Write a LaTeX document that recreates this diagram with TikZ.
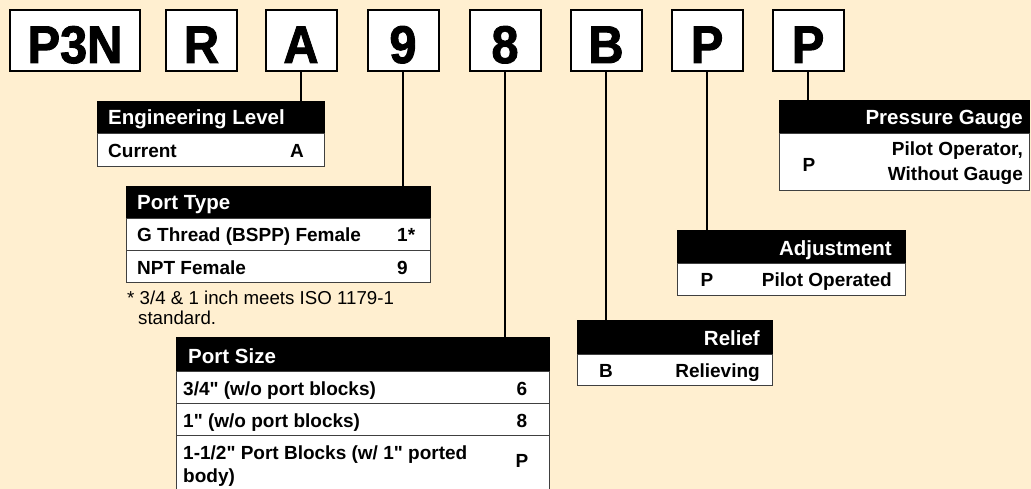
\documentclass[tikz,border=0pt]{standalone}
\usepackage{fontspec}
\setmainfont{Liberation Sans}
\newfontfamily\bigfont{Liberation Sans Bold}[FakeBold=1.8,FakeStretch=0.92]
\definecolor{bg}{HTML}{FFEFD0}
\definecolor{rulec}{HTML}{404040}
\newcommand{\qq}{\textquotedbl}
\begin{document}
\begin{tikzpicture}[x=1pt,y=-1pt,
 codebox/.style={draw=black, line width=2pt, fill=white, minimum height=61pt, inner sep=0pt},
 codetext/.style={font=\bigfont\fontsize{53}{53}\selectfont, anchor=base, inner sep=0pt},
 conn/.style={line width=2pt, black},
 hdrbox/.style={fill=black, draw=black, line width=1pt, inner sep=0pt, anchor=north west},
 rowbox/.style={fill=white, draw=rulec, line width=1.2pt, inner sep=0pt, anchor=north west},
 hdrtext/.style={font=\bfseries\fontsize{20.5}{24}\selectfont, text=white, inner sep=0pt},
 rowtext/.style={font=\bfseries\fontsize{19}{23}\selectfont, inner sep=0pt},
 note/.style={font=\fontsize{18.7}{21}\selectfont, inner sep=0pt, anchor=base west},
]
\useasboundingbox[fill=bg] (0,0) rectangle (1031,489);
\clip (0,0) rectangle (1031,489);

% code boxes
\node[codebox, minimum width=130pt] (cP3N) at (75,40.5) {};
\node[codebox, minimum width=71pt] (cR) at (201.5,40.5) {};
\node[codebox, minimum width=71pt] (cA) at (301,40.5) {};
\node[codebox, minimum width=71pt] (c9) at (403,40.5) {};
\node[codebox, minimum width=71pt] (c8) at (505,40.5) {};
\node[codebox, minimum width=71pt] (cB) at (606,40.5) {};
\node[codebox, minimum width=71pt] (cP1) at (707,40.5) {};
\node[codebox, minimum width=71pt] (cP2) at (808,40.5) {};
\node[codetext] (tP3N) at (75,63) {P3N};
\node[codetext] (tR) at (201.5,63) {R};
\node[codetext] (tA) at (301,63) {A};
\node[codetext] (t9) at (403,63) {9};
\node[codetext] (t8) at (505,63) {8};
\node[codetext] (tB) at (606,63) {B};
\node[codetext] (tP1) at (707,63) {P};
\node[codetext] (tP2) at (808,63) {P};

% Engineering Level
\node[hdrbox, minimum width=227pt, minimum height=32pt] (engH) at (97,101) {};
\node[rowbox, minimum width=227pt, minimum height=33pt] (engR1) at (97,133) {};
\node[hdrtext, anchor=base west] (engHt) at (108,125) {Engineering Level};
\node[rowtext, anchor=base west] (engR1a) at (108,158) {Current};
\node[rowtext, anchor=base] (engR1b) at (297,158) {A};

% Port Type
\node[hdrbox, minimum width=304pt, minimum height=32pt] (ptH) at (126,186) {};
\node[rowbox, minimum width=304pt, minimum height=32pt] (ptR1) at (126,218) {};
\node[rowbox, minimum width=304pt, minimum height=32pt] (ptR2) at (126,250) {};
\node[hdrtext, anchor=base west] (ptHt) at (137,210) {Port Type};
\node[rowtext, anchor=base west] (ptR1a) at (137,242) {G Thread (BSPP) Female};
\node[rowtext, anchor=base west] (ptR1b) at (397,242) {1*};
\node[rowtext, anchor=base west] (ptR2a) at (137,274) {NPT Female};
\node[rowtext, anchor=base west] (ptR2b) at (397,274) {9};
\node[note] (ptN1) at (127,305) {* 3/4 \& 1 inch meets ISO 1179-1};
\node[note] (ptN2) at (138,324) {standard.};

% Port Size
\node[hdrbox, minimum width=373pt, minimum height=34pt] (psH) at (176,337) {};
\node[rowbox, minimum width=373pt, minimum height=32pt] (psR1) at (176,371) {};
\node[rowbox, minimum width=373pt, minimum height=32pt] (psR2) at (176,403) {};
\node[rowbox, minimum width=373pt, minimum height=62pt] (psR3) at (176,435) {};
\node[hdrtext, anchor=base west] (psHt) at (188,363) {Port Size};
\node[rowtext, anchor=base west] (psR1a) at (183,395) {3/4\qq{} (w/o port blocks)};
\node[rowtext, anchor=base] (psR1b) at (522,395) {6};
\node[rowtext, anchor=base west] (psR2a) at (183,427) {1\qq{} (w/o port blocks)};
\node[rowtext, anchor=base] (psR2b) at (522,427) {8};
\node[rowtext, anchor=base west] (psR3a) at (183,459) {1-1/2\qq{} Port Blocks (w/ 1\qq{} ported};
\node[rowtext, anchor=base west] (psR3c) at (183,482) {body)};
\node[rowtext, anchor=base] (psR3b) at (522,467) {P};

% Relief
\node[hdrbox, minimum width=195pt, minimum height=34pt] (rlH) at (577,320) {};
\node[rowbox, minimum width=195pt, minimum height=31pt] (rlR1) at (577,354) {};
\node[hdrtext, anchor=base east] (rlHt) at (760,345) {Relief};
\node[rowtext, anchor=base] (rlR1a) at (606,377) {B};
\node[rowtext, anchor=base east] (rlR1b) at (760,377) {Relieving};

% Adjustment
\node[hdrbox, minimum width=228pt, minimum height=33pt] (adH) at (677,230) {};
\node[rowbox, minimum width=228pt, minimum height=32pt] (adR1) at (677,263) {};
\node[hdrtext, anchor=base east] (adHt) at (892,255) {Adjustment};
\node[rowtext, anchor=base] (adR1a) at (707,287) {P};
\node[rowtext, anchor=base east] (adR1b) at (892,287) {Pilot Operated};

% Pressure Gauge
\node[hdrbox, minimum width=250pt, minimum height=33pt] (pgH) at (779,100) {};
\node[rowbox, minimum width=250pt, minimum height=57pt] (pgR1) at (779,133) {};
\node[hdrtext, anchor=base east] (pgHt) at (1023,125) {Pressure Gauge};
\node[rowtext, anchor=base] (pgR1a) at (809,172) {P};
\node[rowtext, anchor=base east] (pgR1b) at (1023,156) {Pilot Operator,};
\node[rowtext, anchor=base east] (pgR1c) at (1023,181) {Without Gauge};

% connectors
\draw[conn] (cA.south) -- (cA.south |- engH.north);
\draw[conn] (c9.south) -- (c9.south |- ptH.north);
\draw[conn] (c8.south) -- (c8.south |- psH.north);
\draw[conn] (cB.south) -- (cB.south |- rlH.north);
\draw[conn] (cP1.south) -- (cP1.south |- adH.north);
\draw[conn] (cP2.south) -- (cP2.south |- pgH.north);
\end{tikzpicture}
\end{document}
